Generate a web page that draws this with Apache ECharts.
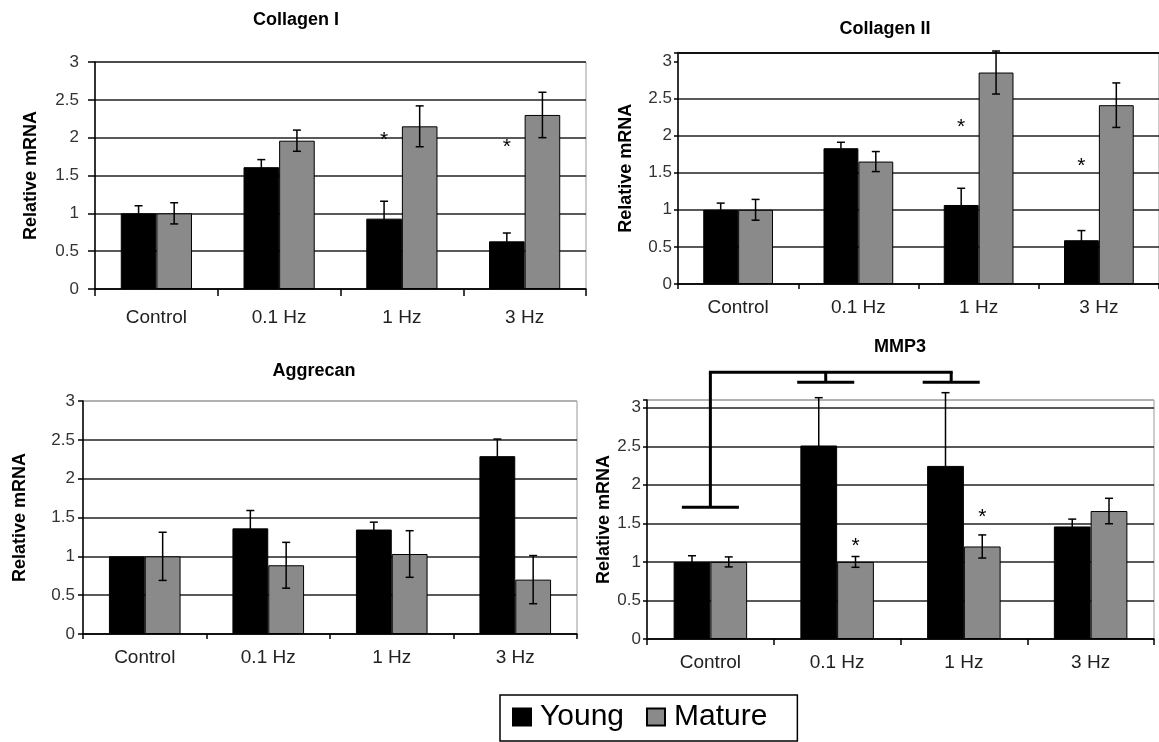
<!DOCTYPE html>
<html>
<head>
<meta charset="utf-8">
<script src="https://cdn.jsdelivr.net/npm/echarts@6/dist/echarts.min.js"></script>
<style>
html, body { margin: 0; padding: 0; background: #ffffff; }
#chart { width: 1159px; height: 742px; }
</style>
</head>
<body>
<div id="chart"></div>
<script>
// ---------------- DATA ----------------
const categories = ['Control', '0.1 Hz', '1 Hz', '3 Hz'];
const seriesNames = ['Young', 'Mature'];
const panelTitles = ['Collagen I', 'Collagen II', 'Aggrecan', 'MMP3'];
const yAxisName = 'Relative mRNA';
const yTickStep = 0.5;
const yMaxima = [3, 3.12, 3, 3.1];

// Collagen I
const col1Young = [1.0, 1.61, 0.93, 0.63];
const col1YoungErr = [0.10, 0.10, 0.23, 0.11];
const col1Mature = [1.0, 1.96, 2.15, 2.30];
const col1MatureErr = [0.14, 0.14, 0.27, 0.30];
const col1StarYoung = [null, null, 2.03, 1.94];

// Collagen II
const col2Young = [1.0, 1.83, 1.065, 0.59];
const col2YoungErr = [0.09, 0.08, 0.225, 0.13];
const col2Mature = [1.0, 1.65, 2.85, 2.41];
const col2MatureErr = [0.14, 0.135, 0.29, 0.30];
const col2StarYoung = [null, null, 2.18, 1.65];

// Aggrecan
const aggYoung = [1.0, 1.36, 1.345, 2.29];
const aggYoungErr = [0, 0.23, 0.095, 0.22];
const aggMature = [1.0, 0.885, 1.03, 0.70];
const aggMatureErr = [0.31, 0.295, 0.30, 0.31];

// MMP3
const mmpYoung = [1.0, 2.51, 2.245, 1.46];
const mmpYoungErr = [0.08, 0.62, 0.95, 0.095];
const mmpMature = [1.0, 1.0, 1.20, 1.66];
const mmpMatureErr = [0.065, 0.07, 0.15, 0.165];
const mmpStarMature = [null, 1.27, 1.64, null];

// MMP3 significance bracket (value units)
const bracketTopLevel = 3.46;
const bracketCats = [0, 1, 2];
const bracketFootLevels = [1.71, 3.33, 3.33];
const bracketCatShift = [0, -0.09, -0.10];

// ---------------- STYLE / LAYOUT ----------------
const FONT = "'Liberation Sans', Arial, sans-serif";
const BLACK = '#000000';
const GRAY = '#8a8a8a';
const GRID_LINE = '#222222';
const BAR_FRAC = 0.29;

const layouts = [
  { grid: { left: 95, top: 62, width: 491, height: 227 }, title: [296, 11], nameGap: 55, labelMargin: 16, yTick: 7, xTick: 7, catMargin: 19,
    splitColors: [GRID_LINE] },
  { grid: { left: 678, top: 52.5, width: 481, height: 231.5 }, title: [885, 20], nameGap: 43, labelMargin: 6, yTick: 4, xTick: 5, catMargin: 14,
    splitColors: [GRID_LINE, GRID_LINE, GRID_LINE, GRID_LINE, GRID_LINE, GRID_LINE, 'rgba(0,0,0,0)', '#111111'] },
  { grid: { left: 83, top: 401, width: 494, height: 233 }, title: [314, 362], nameGap: 54, labelMargin: 8, yTick: 5, xTick: 5, catMargin: 14,
    splitColors: [GRID_LINE, GRID_LINE, GRID_LINE, GRID_LINE, GRID_LINE, GRID_LINE, '#aaaaaa'] },
  { grid: { left: 647, top: 400, width: 507, height: 239 }, title: [900, 338], nameGap: 30, labelMargin: 6, yTick: 4, xTick: 6, catMargin: 14,
    splitColors: [GRID_LINE, GRID_LINE, GRID_LINE, GRID_LINE, GRID_LINE, GRID_LINE, GRID_LINE, '#aaaaaa'] }
];

const panels = [
  { young: col1Young, youngErr: col1YoungErr, mature: col1Mature, matureErr: col1MatureErr, starYoung: col1StarYoung, starMature: null },
  { young: col2Young, youngErr: col2YoungErr, mature: col2Mature, matureErr: col2MatureErr, starYoung: col2StarYoung, starMature: null },
  { young: aggYoung, youngErr: aggYoungErr, mature: aggMature, matureErr: aggMatureErr, starYoung: null, starMature: null },
  { young: mmpYoung, youngErr: mmpYoungErr, mature: mmpMature, matureErr: mmpMatureErr, starYoung: null, starMature: mmpStarMature }
];

function errRenderer(sign) {
  return function (params, api) {
    const idx = api.value(0), v = api.value(1), e = api.value(2);
    if (!e) return null;
    const band = api.size([1, 0])[0];
    const dx = sign * band * BAR_FRAC / 2;
    const top = api.coord([idx, v + e]);
    const bot = api.coord([idx, v - e]);
    const x = top[0] + dx;
    const cap = 4;
    const st = { stroke: BLACK, lineWidth: 1.5 };
    return {
      type: 'group',
      children: [
        { type: 'line', shape: { x1: x, y1: top[1], x2: x, y2: bot[1] }, style: st },
        { type: 'line', shape: { x1: x - cap, y1: top[1], x2: x + cap, y2: top[1] }, style: st },
        { type: 'line', shape: { x1: x - cap, y1: bot[1], x2: x + cap, y2: bot[1] }, style: st }
      ]
    };
  };
}

function starRenderer(sign) {
  return function (params, api) {
    const idx = api.value(0), v = api.value(1);
    const band = api.size([1, 0])[0];
    const p = api.coord([idx, v]);
    return {
      type: 'text',
      x: p[0] + sign * band * BAR_FRAC / 2,
      y: p[1] + 5,
      style: { text: '*', fontSize: 21, fontFamily: FONT, fill: BLACK, align: 'center', verticalAlign: 'middle' }
    };
  };
}

function bracketRenderer(params, api) {
  const band = api.size([1, 0])[0];
  const half = band * 0.225;
  const st = { stroke: BLACK, lineWidth: 3 };
  const children = [];
  const xs = [];
  for (let i = 0; i < bracketCats.length; i++) {
    const topP = api.coord([bracketCats[i], bracketTopLevel]);
    const footP = api.coord([bracketCats[i], bracketFootLevels[i]]);
    const x = topP[0] + bracketCatShift[i] * band;
    xs.push(x);
    children.push({ type: 'line', shape: { x1: x, y1: topP[1], x2: x, y2: footP[1] }, style: st });
    children.push({ type: 'line', shape: { x1: x - half, y1: footP[1], x2: x + half, y2: footP[1] }, style: st });
  }
  const yTop = api.coord([0, bracketTopLevel])[1];
  children.push({ type: 'line', shape: { x1: xs[0] - 1.5, y1: yTop, x2: xs[xs.length - 1] + 1.5, y2: yTop }, style: st });
  return { type: 'group', children: children };
}

const grids = [], xAxes = [], yAxes = [], titles = [], series = [];

panels.forEach((p, i) => {
  const L = layouts[i];
  grids.push(Object.assign({ show: true, borderColor: '#999999', borderWidth: 1, backgroundColor: 'transparent' }, L.grid));
  titles.push({
    text: panelTitles[i], left: L.title[0], top: L.title[1], textAlign: 'center', padding: 0,
    textStyle: { fontFamily: FONT, fontSize: 18, fontWeight: 'bold', color: BLACK }
  });
  xAxes.push({
    type: 'category', gridIndex: i, data: categories,
    axisLine: { lineStyle: { color: BLACK, width: 1.5 } },
    axisTick: { show: true, length: L.xTick, lineStyle: { color: BLACK, width: 1.5 } },
    axisLabel: { fontFamily: FONT, fontSize: 19, color: '#222222', margin: L.catMargin },
    splitLine: { show: false }
  });
  yAxes.push({
    type: 'value', gridIndex: i, min: 0, max: yMaxima[i], interval: yTickStep,
    name: yAxisName, nameLocation: 'middle', nameGap: L.nameGap,
    nameTextStyle: { fontFamily: FONT, fontSize: 18, fontWeight: 'bold', color: BLACK },
    axisLine: { show: true, lineStyle: { color: BLACK, width: 1.5 } },
    axisTick: { show: true, length: L.yTick, lineStyle: { color: BLACK, width: 1.5 } },
    axisLabel: {
      fontFamily: FONT, fontSize: 17, color: '#333333', margin: L.labelMargin,
      formatter: function (v) { return Math.abs(v * 2 - Math.round(v * 2)) < 1e-6 ? String(v) : ''; }
    },
    splitLine: { show: true, lineStyle: { color: L.splitColors, width: 1.5 } }
  });

  const youngBar = {
    name: seriesNames[0], type: 'bar', xAxisIndex: i, yAxisIndex: i, data: p.young,
    barGap: '0%', barCategoryGap: '42%',
    itemStyle: { color: BLACK, borderColor: BLACK, borderWidth: 1 }
  };
  if (i === 1) {
    youngBar.markLine = {
      silent: true, symbol: 'none', label: { show: false },
      lineStyle: { color: '#111111', width: 2, type: 'solid' },
      data: [{ yAxis: yMaxima[1] }]
    };
  }
  series.push(youngBar);
  series.push({
    name: seriesNames[1], type: 'bar', xAxisIndex: i, yAxisIndex: i, data: p.mature,
    barGap: '0%', barCategoryGap: '42%',
    itemStyle: { color: GRAY, borderColor: BLACK, borderWidth: 1 }
  });
  series.push({
    name: 'errY' + i, type: 'custom', xAxisIndex: i, yAxisIndex: i, clip: false, z: 5,
    data: p.young.map((v, k) => [k, v, p.youngErr[k]]),
    encode: { x: 0, y: 1 }, renderItem: errRenderer(-1)
  });
  series.push({
    name: 'errM' + i, type: 'custom', xAxisIndex: i, yAxisIndex: i, clip: false, z: 5,
    data: p.mature.map((v, k) => [k, v, p.matureErr[k]]),
    encode: { x: 0, y: 1 }, renderItem: errRenderer(1)
  });
  if (p.starYoung) {
    series.push({
      name: 'starY' + i, type: 'custom', xAxisIndex: i, yAxisIndex: i, clip: false, z: 6,
      data: p.starYoung.map((v, k) => [k, v]).filter(d => d[1] !== null),
      encode: { x: 0, y: 1 }, renderItem: starRenderer(-1)
    });
  }
  if (p.starMature) {
    series.push({
      name: 'starM' + i, type: 'custom', xAxisIndex: i, yAxisIndex: i, clip: false, z: 6,
      data: p.starMature.map((v, k) => [k, v]).filter(d => d[1] !== null),
      encode: { x: 0, y: 1 }, renderItem: starRenderer(1)
    });
  }
  if (i === 3) {
    series.push({
      name: 'bracket', type: 'custom', xAxisIndex: i, yAxisIndex: i, clip: false, z: 7,
      data: [[0, bracketTopLevel]], encode: { x: 0, y: 1 }, renderItem: bracketRenderer
    });
  }
});

const chart = echarts.init(document.getElementById('chart'), null, { renderer: 'canvas' });
chart.setOption({
  animation: false,
  backgroundColor: '#ffffff',
  title: titles,
  grid: grids,
  xAxis: xAxes,
  yAxis: yAxes,
  legend: {
    data: seriesNames, left: 500, top: 695, orient: 'horizontal',
    icon: 'rect', itemWidth: 18, itemHeight: 17, itemGap: 22,
    borderColor: BLACK, borderWidth: 1.5, padding: [7, 30, 9, 12],
    textStyle: { fontFamily: FONT, fontSize: 30, color: BLACK, padding: [0, 0, 0, 4] }
  },
  series: series
});
</script>
</body>
</html>
